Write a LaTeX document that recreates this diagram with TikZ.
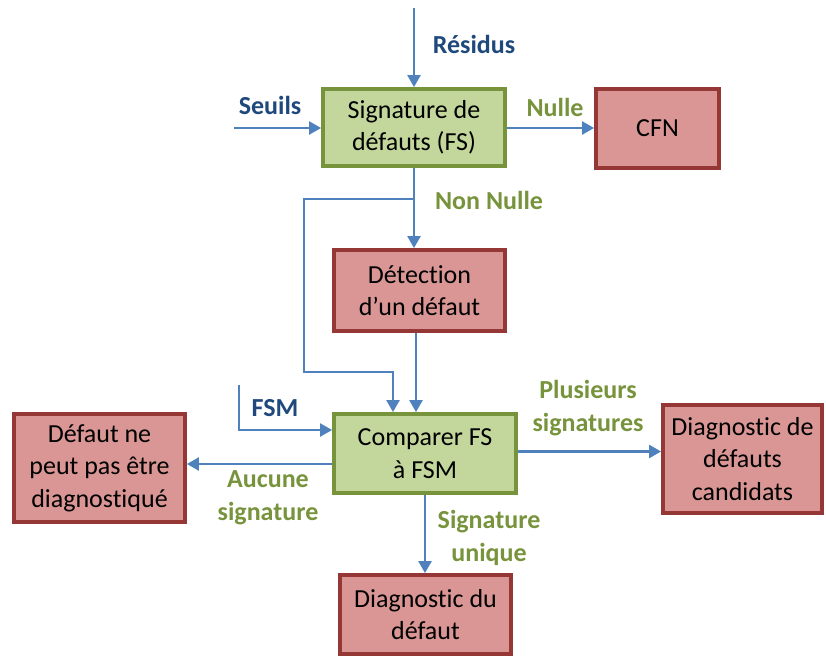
\documentclass[tikz,border=0pt]{standalone}
\usepackage{fontspec}
\setmainfont{Carlito}[Ligatures={NoCommon}]
\usetikzlibrary{arrows.meta}
\definecolor{gfill}{HTML}{C3D69B}
\definecolor{gline}{HTML}{77933C}
\definecolor{rfill}{HTML}{D99694}
\definecolor{rline}{HTML}{953735}
\definecolor{arrc}{HTML}{4F81BD}
\definecolor{bluetxt}{HTML}{1F497D}
\definecolor{greentxt}{HTML}{77933C}
\tikzset{
  boxbase/.style={line width=3.8pt, align=center, inner sep=0pt,
    font=\fontsize{26}{32.5}\selectfont},
  gbox/.style={boxbase, draw=gline, fill=gfill},
  rbox/.style={boxbase, draw=rline, fill=rfill},
  arr/.style={draw=arrc, line width=2.3pt, -{Triangle[length=12pt,width=13pt]}},
  blab/.style={font=\fontsize{26}{32.5}\selectfont\bfseries, text=bluetxt, align=center, inner sep=0pt},
  glab/.style={font=\fontsize{26}{32.5}\selectfont\bfseries, text=greentxt, align=center, inner sep=0pt},
}
\begin{document}
\begin{tikzpicture}[x=1pt,y=-1pt]
\useasboundingbox (0,0) rectangle (826,657);
% boxes
\node[gbox, minimum width=182pt, minimum height=77pt] (FS) at (414,127.5) {Signature de\\défauts (FS)};
\node[rbox, minimum width=123pt, minimum height=79pt] (CFN) at (657.5,128.5) {CFN};
\node[rbox, minimum width=171pt, minimum height=81pt] (Det) at (419.5,290.5) {Détection\\d’un défaut};
\node[gbox, minimum width=182pt, minimum height=79pt] (Cmp) at (425,453.5) {Comparer FS\\à FSM};
\node[rbox, minimum width=171pt, minimum height=108pt] (Def) at (99.5,468) {Défaut ne\\peut pas être\\diagnostiqué};
\node[rbox, minimum width=159pt, minimum height=108pt] (Cand) at (742.5,459) {Diagnostic de\\défauts\\candidats};
\node[rbox, minimum width=171pt, minimum height=79pt] (Diag) at (425.5,614.5) {Diagnostic du\\défaut};
% coordinates
\coordinate (r0) at (414,8);
\coordinate (s0) at (234,128);
\coordinate (b1) at (414,199);
\coordinate (k2) at (304,372);
\coordinate (k3) at (393,372);
\coordinate (v) at (416,0);
\coordinate (f0) at (239,385);
\coordinate (f1) at (239,430);
\coordinate (a1) at (0,464);
\coordinate (p1) at (0,451.5);
% connectors
\draw[arr] (r0) -- (FS.north);
\draw[arr] (s0) -- (s0 -| FS.west);
\draw[arr] (FS.east |- s0) -- (CFN.west |- s0);
\draw[arr] (FS.south) -- (FS.south |- Det.north);
\draw[arr] (b1) -| (k2) -- (k3) -- (k3 |- Cmp.north);
\draw[arr] (Det.south -| v) -- (Cmp.north -| v);
\draw[arr] (f0) -- (f1) -- (f1 -| Cmp.west);
\draw[arr] (Cmp.west |- a1) -- (Def.east |- a1);
\draw[arr] (Cmp.east |- p1) -- (Cand.west |- p1);
\draw[arr] (Cmp.south) -- (Cmp.south |- Diag.north);
% labels
\node[blab] (lres) at (474,44) {Résidus};
\node[blab] (lseu) at (270,105) {Seuils};
\node[blab] (lfsm) at (275,408) {FSM};
\node[glab] (lnul) at (555,107) {Nulle};
\node[glab] (lnn) at (489,200) {Non Nulle};
\node[glab] (lplu) at (588,408) {Plusieurs\\signatures};
\node[glab] (lauc) at (268,498) {Aucune\\signature};
\node[glab] (luni) at (489,538) {Signature\\unique};
\end{tikzpicture}
\end{document}
